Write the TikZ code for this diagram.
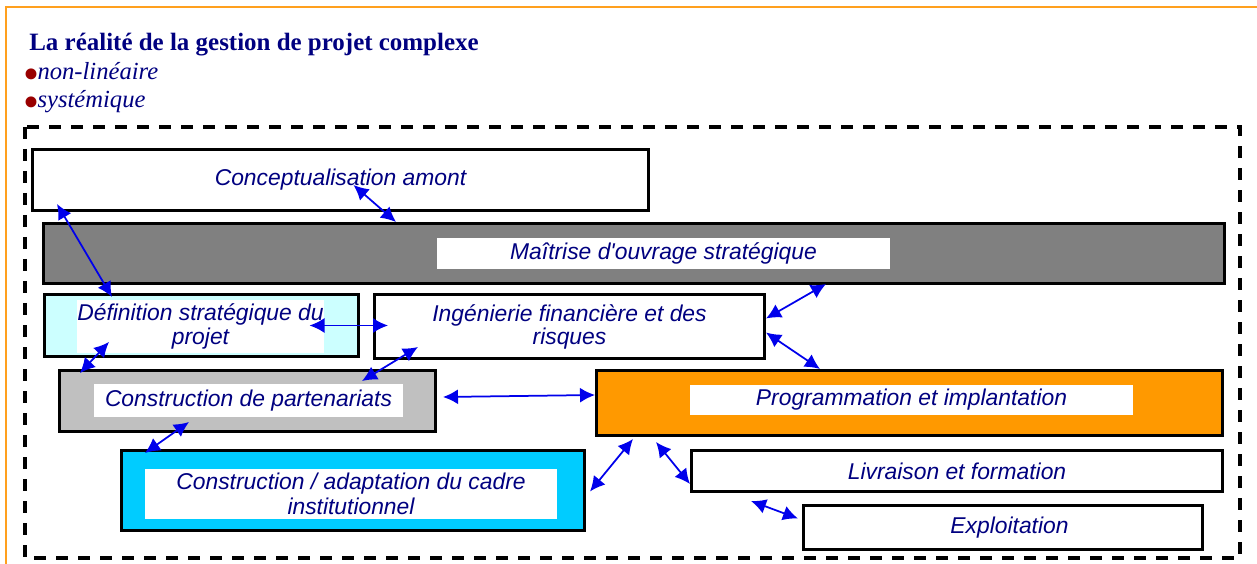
\documentclass[tikz,border=0pt]{standalone}
\usepackage{fontspec}
\setmainfont{Liberation Serif}
\setsansfont{Liberation Sans}
\usetikzlibrary{arrows.meta,calc}
\definecolor{titleblue}{RGB}{0,0,128}
\definecolor{bulletred}{RGB}{153,0,0}
\definecolor{frameorange}{RGB}{255,160,30}
\definecolor{boxgray}{RGB}{128,128,128}
\definecolor{boxsilver}{RGB}{192,192,192}
\definecolor{boxcyan}{RGB}{0,204,255}
\definecolor{boxpale}{RGB}{204,255,255}
\definecolor{boxorange}{RGB}{255,153,0}
\definecolor{linkblue}{RGB}{0,0,235}
\newcommand{\reddot}{\hspace*{-2.4pt}\rlap{\smash{\textcolor{bulletred}{\raisebox{-5.4pt}{\fontsize{26}{26}\selectfont\textbullet}}}}\hspace*{8.2pt}}

\begin{document}
\begin{tikzpicture}[x=0.2mm,y=-0.2mm,
   box/.style={draw=black,line width=0.6mm,fill=white,inner sep=0pt,text=titleblue,
      align=center,font=\sffamily\itshape\fontsize{13}{15}\selectfont},
   inlay/.style={fill=white,inner sep=0pt,text=titleblue,align=center,
      font=\sffamily\itshape\fontsize{13}{15}\selectfont},
   twoway/.style={linkblue,line width=0.35mm,
      {Latex[length=3mm,width=3mm]}-{Latex[length=3mm,width=3mm]}},
   heading/.style={anchor=base west,inner sep=0pt,text=titleblue}]
   \useasboundingbox (0,0) rectangle (1257,564);
   \draw [frameorange,line width=0.4mm] (6,564) -- (6,7) -- (1257,7);
   % title and bullets
   \node [heading,font=\bfseries\fontsize{14.2}{16}\selectfont] (title) at (29,51) {La réalité de la gestion de projet complexe};
   \node [heading,font=\fontsize{14}{16}\selectfont] (bullet1) at (27,80) {\reddot\textit{non-linéaire}};
   \node [heading,font=\fontsize{14}{16}\selectfont] (bullet2) at (27,108) {\reddot\textit{systémique}};
   \draw [line width=0.7mm,dash pattern=on 2.4mm off 2mm] (25,127) rectangle (1240,558);
   % boxes
   \node [box,minimum width=123.2mm,minimum height=12.2mm] (concept) at (340.5,180) {Conceptualisation amont};
   \node [box,fill=boxgray,minimum width=236.2mm,minimum height=12mm] (maitrise) at (634,253.5) {};
   \node [inlay,minimum width=90.6mm,minimum height=6.2mm] (maitrise-text) at (663.5,253.5) {Maîtrise d\textquotesingle ouvrage stratégique};
   \node [box,fill=boxpale,minimum width=62.8mm,minimum height=12.4mm] (definition) at (201.5,325.5) {};
   \node [inlay,minimum width=49.4mm,minimum height=10.6mm,font=\sffamily\itshape\fontsize{13}{14}\selectfont] (definition-text) at (200.5,326.5) {Définition stratégique du\\projet};
   \node [box,minimum width=78mm,minimum height=12.8mm,font=\sffamily\itshape\fontsize{13}{11.5}\selectfont] (ingenierie) at (569.5,326.5) {Ingénierie financière et des\\risques};
   \node [box,fill=boxsilver,minimum width=75.2mm,minimum height=12.2mm] (partenariats) at (247.5,401) {};
   \node [inlay,minimum width=61.8mm,minimum height=6.6mm] (partenariats-text) at (248.5,400.5) {Construction de partenariats};
   \node [box,fill=boxorange,minimum width=125.2mm,minimum height=13mm] (programmation) at (909.5,403) {};
   \node [inlay,minimum width=88.6mm,minimum height=6mm] (programmation-text) at (911.5,400) {Programmation et implantation};
   \node [box,fill=boxcyan,minimum width=92.6mm,minimum height=16mm] (cadre) at (353,490.5) {};
   \node [inlay,minimum width=82.4mm,minimum height=10mm,font=\sffamily\itshape\fontsize{13}{14.5}\selectfont] (cadre-text) at (351,494) {Construction / adaptation du cadre\\institutionnel};
   \node [box,minimum width=106.2mm,minimum height=8.2mm] (livraison) at (957,471) {Livraison et formation};
   \node [box,minimum width=79.8mm,minimum height=8.8mm] (exploitation) at (1003,527.5) {\hspace*{2.6mm}Exploitation};
   % links
   \draw [twoway] ($(concept.south west)+(26,-8)$) -- ($(definition.north west)+(69,4)$);
   \draw [twoway] ($(concept.center)+(13,5)$) -- ($(maitrise.north west)+(354,0)$);
   \draw [twoway] ($(maitrise.south)+(192,-1)$) -- ($(ingenierie.east)+(0,-8)$);
   \draw [twoway] ($(ingenierie.east)+(0,6)$) -- ($(programmation.north west)+(225,0)$);
   \draw [twoway] ($(definition.center)+(108,0)$) -- ($(ingenierie.west)+(15,-1)$);
   \draw [twoway] ($(definition.south west)+(66,-16)$) -- ($(partenariats.north west)+(22,4)$);
   \draw [twoway] ($(ingenierie.south west)+(45,-13)$) -- ($(partenariats.north east)+(-75,12)$);
   \draw [twoway] ($(partenariats.east)+(6,-4)$) -- ($(programmation.west)+(0,-8)$);
   \draw [twoway] ($(partenariats.south west)+(131,-11)$) -- ($(cadre.north west)+(25,4)$);
   \draw [twoway] ($(programmation.south west)+(38,2)$) -- ($(cadre.east)+(4,1)$);
   \draw [twoway] ($(programmation.south west)+(61,5)$) -- ($(livraison.west)+(0,13)$);
   \draw [twoway] ($(livraison.south west)+(61,8)$) -- ($(exploitation.west)+(-4,-9)$);
\end{tikzpicture}
\end{document}
